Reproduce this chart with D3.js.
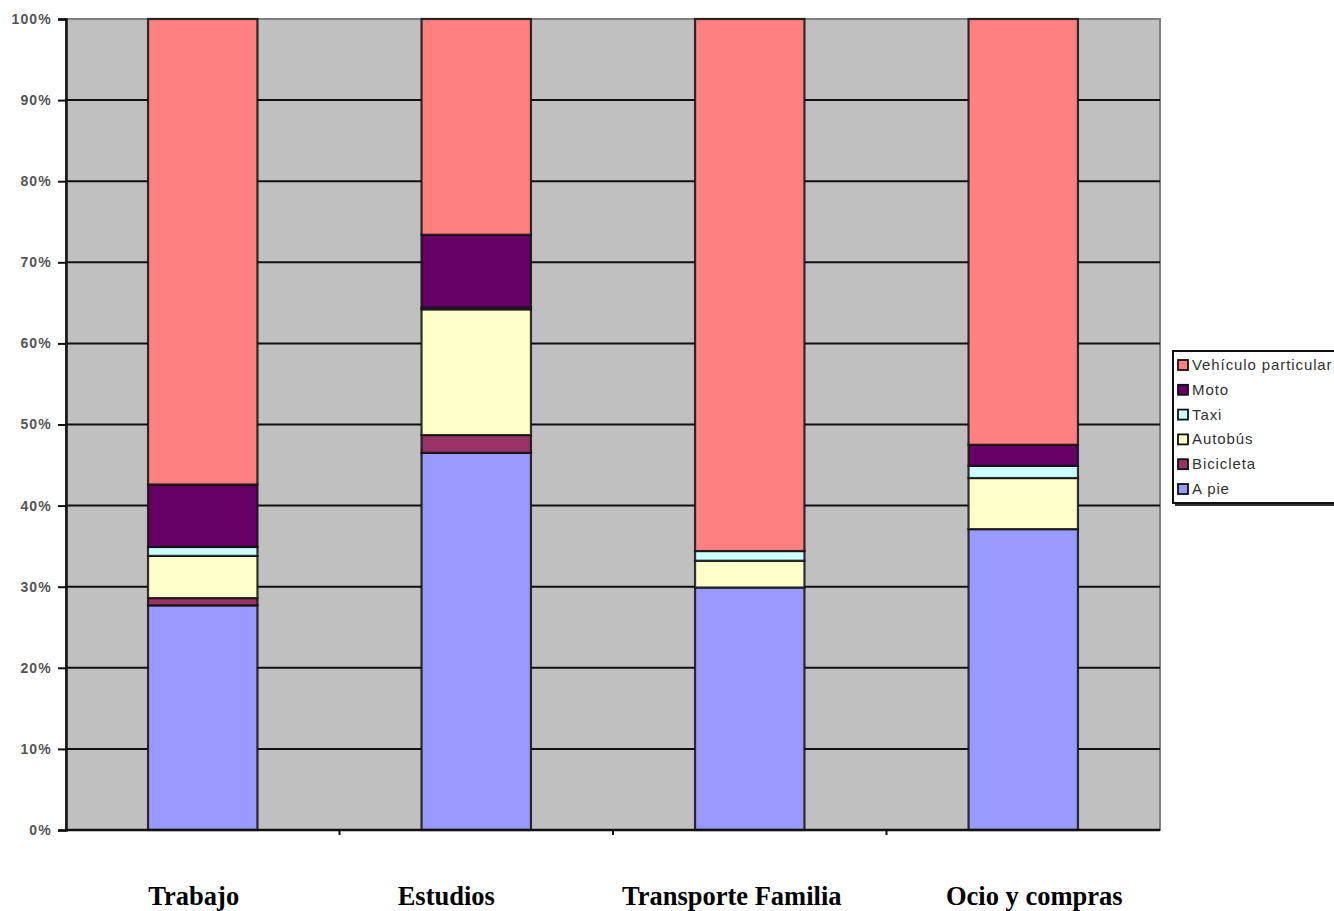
<!DOCTYPE html>
<html>
<head>
<meta charset="utf-8">
<script src="https://cdn.jsdelivr.net/npm/d3@7"></script>
<style>
  html, body { margin: 0; padding: 0; background: #fff; }
  svg { display: block; }
</style>
</head>
<body>
<svg id="chart" width="1334" height="911"></svg>
<script>
// Trip purposes (x categories)
const categories = ["Trabajo", "Estudios", "Transporte Familia", "Ocio y compras"];

// Transport modes, stacked bottom to top
const modes = ["A pie", "Bicicleta", "Autobús", "Taxi", "Moto", "Vehículo particular"];

// Share (%) of each mode per trip purpose
const aPie      = [27.7, 46.5, 29.9, 37.1];
const bicicleta = [0.9, 2.2, 0.0, 0.0];
const autobus   = [5.2, 15.5, 3.3, 6.3];
const taxi      = [1.1, 0.2, 1.2, 1.5];
const moto      = [7.7, 9.0, 0.0, 2.6];
const vehiculo  = [57.4, 26.6, 65.6, 52.5];

const modeColors = ["#9999FF", "#993366", "#FFFFCC", "#CCFFFF", "#660066", "#FF8080"];

const yTicks = [0, 10, 20, 30, 40, 50, 60, 70, 80, 90, 100];
const yTickLabels = yTicks.map(v => v + "%");

const seriesValues = [aPie, bicicleta, autobus, taxi, moto, vehiculo];
const rows = categories.map((c, i) => {
  const r = { category: c };
  modes.forEach((m, k) => { r[m] = seriesValues[k][i]; });
  return r;
});

// Layout
const plot = { left: 66, right: 1160, top: 19, bottom: 830 };
const svg = d3.select("#chart");

const x = d3.scaleBand()
  .domain(categories)
  .range([plot.left, plot.right])
  .paddingInner(0.6)
  .paddingOuter(0.3);

const y = d3.scaleLinear().domain([0, 100]).range([plot.bottom, plot.top]);
const color = d3.scaleOrdinal().domain(modes).range(modeColors);

// Plot background
svg.append("rect")
  .attr("x", plot.left).attr("y", plot.top)
  .attr("width", plot.right - plot.left).attr("height", plot.bottom - plot.top)
  .attr("fill", "#C0C0C0")
  .attr("stroke", "#808080").attr("stroke-width", 2);

// Horizontal gridlines
svg.append("g")
  .selectAll("line")
  .data(yTicks.filter(v => v > 0 && v < 100))
  .join("line")
  .attr("x1", plot.left).attr("x2", plot.right)
  .attr("y1", d => y(d)).attr("y2", d => y(d))
  .attr("stroke", "#111").attr("stroke-width", 2);

// Stacked bars
const stacked = d3.stack().keys(modes)(rows);
svg.append("g")
  .selectAll("g")
  .data(stacked)
  .join("g")
  .attr("fill", d => color(d.key))
  .selectAll("rect")
  .data(d => d.filter(s => s[1] - s[0] > 0))
  .join("rect")
  .attr("x", d => x(d.data.category))
  .attr("width", x.bandwidth())
  .attr("y", d => y(d[1]))
  .attr("height", d => y(d[0]) - y(d[1]))
  .attr("stroke", "#111")
  .attr("stroke-width", 2.2)
  .attr("stroke-opacity", 0.85);

// Y axis
const yAxis = d3.axisLeft(y)
  .tickValues(yTicks)
  .tickFormat((d, i) => yTickLabels[i])
  .tickSize(8)
  .tickPadding(6);
const gy = svg.append("g")
  .attr("transform", `translate(${plot.left},0)`)
  .call(yAxis);
gy.select(".domain").attr("stroke", "#111").attr("stroke-width", 2.5);
gy.selectAll(".tick line").attr("stroke", "#111").attr("stroke-width", 2);
gy.selectAll(".tick text")
  .attr("font-family", "Liberation Sans, Arial, sans-serif")
  .attr("font-size", 14)
  .attr("font-weight", "bold")
  .attr("letter-spacing", "1.2")
  .attr("fill", "#555");

// X axis line with ticks between categories
const boundaries = categories.slice(1).map(c => x(c) - x.step() * x.paddingInner() / 2);
const gx = svg.append("g");
gx.append("line")
  .attr("x1", plot.left).attr("x2", plot.right)
  .attr("y1", plot.bottom).attr("y2", plot.bottom)
  .attr("stroke", "#111").attr("stroke-width", 2.5);
gx.selectAll("line.tk")
  .data(boundaries)
  .join("line")
  .attr("class", "tk")
  .attr("x1", d => d).attr("x2", d => d)
  .attr("y1", plot.bottom).attr("y2", plot.bottom + 5)
  .attr("stroke", "#111").attr("stroke-width", 2);

// Category captions below the chart
const captionShift = [-9, -30, -18, 11];
svg.append("g")
  .selectAll("text")
  .data(categories)
  .join("text")
  .attr("x", (d, i) => x(d) + x.bandwidth() / 2 + captionShift[i])
  .attr("y", 905)
  .attr("text-anchor", "middle")
  .attr("font-family", "Liberation Serif, Times New Roman, serif")
  .attr("font-weight", "bold")
  .attr("font-size", 26.5)
  .attr("fill", "#000")
  .text(d => d);

// Legend (top entry is the top of the stack)
const legendModes = modes.slice().reverse();
const legend = svg.append("g").attr("transform", "translate(1173,351)");
legend.append("rect")
  .attr("x", 0).attr("y", 0)
  .attr("width", 170).attr("height", 152)
  .attr("fill", "#fff")
  .attr("stroke", "#111").attr("stroke-width", 2);
legend.append("line")
  .attr("x1", 2).attr("x2", 170)
  .attr("y1", 154).attr("y2", 154)
  .attr("stroke", "#333").attr("stroke-width", 2);
const item = legend.selectAll("g.item")
  .data(legendModes)
  .join("g")
  .attr("class", "item")
  .attr("transform", (d, i) => `translate(0,${14 + i * 24.8})`);
item.append("rect")
  .attr("x", 5).attr("y", -5)
  .attr("width", 10).attr("height", 10)
  .attr("fill", d => color(d))
  .attr("stroke", "#111").attr("stroke-width", 1.8);
item.append("text")
  .attr("x", 19).attr("y", 5)
  .attr("font-family", "Liberation Sans, Arial, sans-serif")
  .attr("font-size", 15)
  .attr("letter-spacing", "0.9")
  .attr("fill", "#333")
  .text(d => d);
</script>
</body>
</html>
